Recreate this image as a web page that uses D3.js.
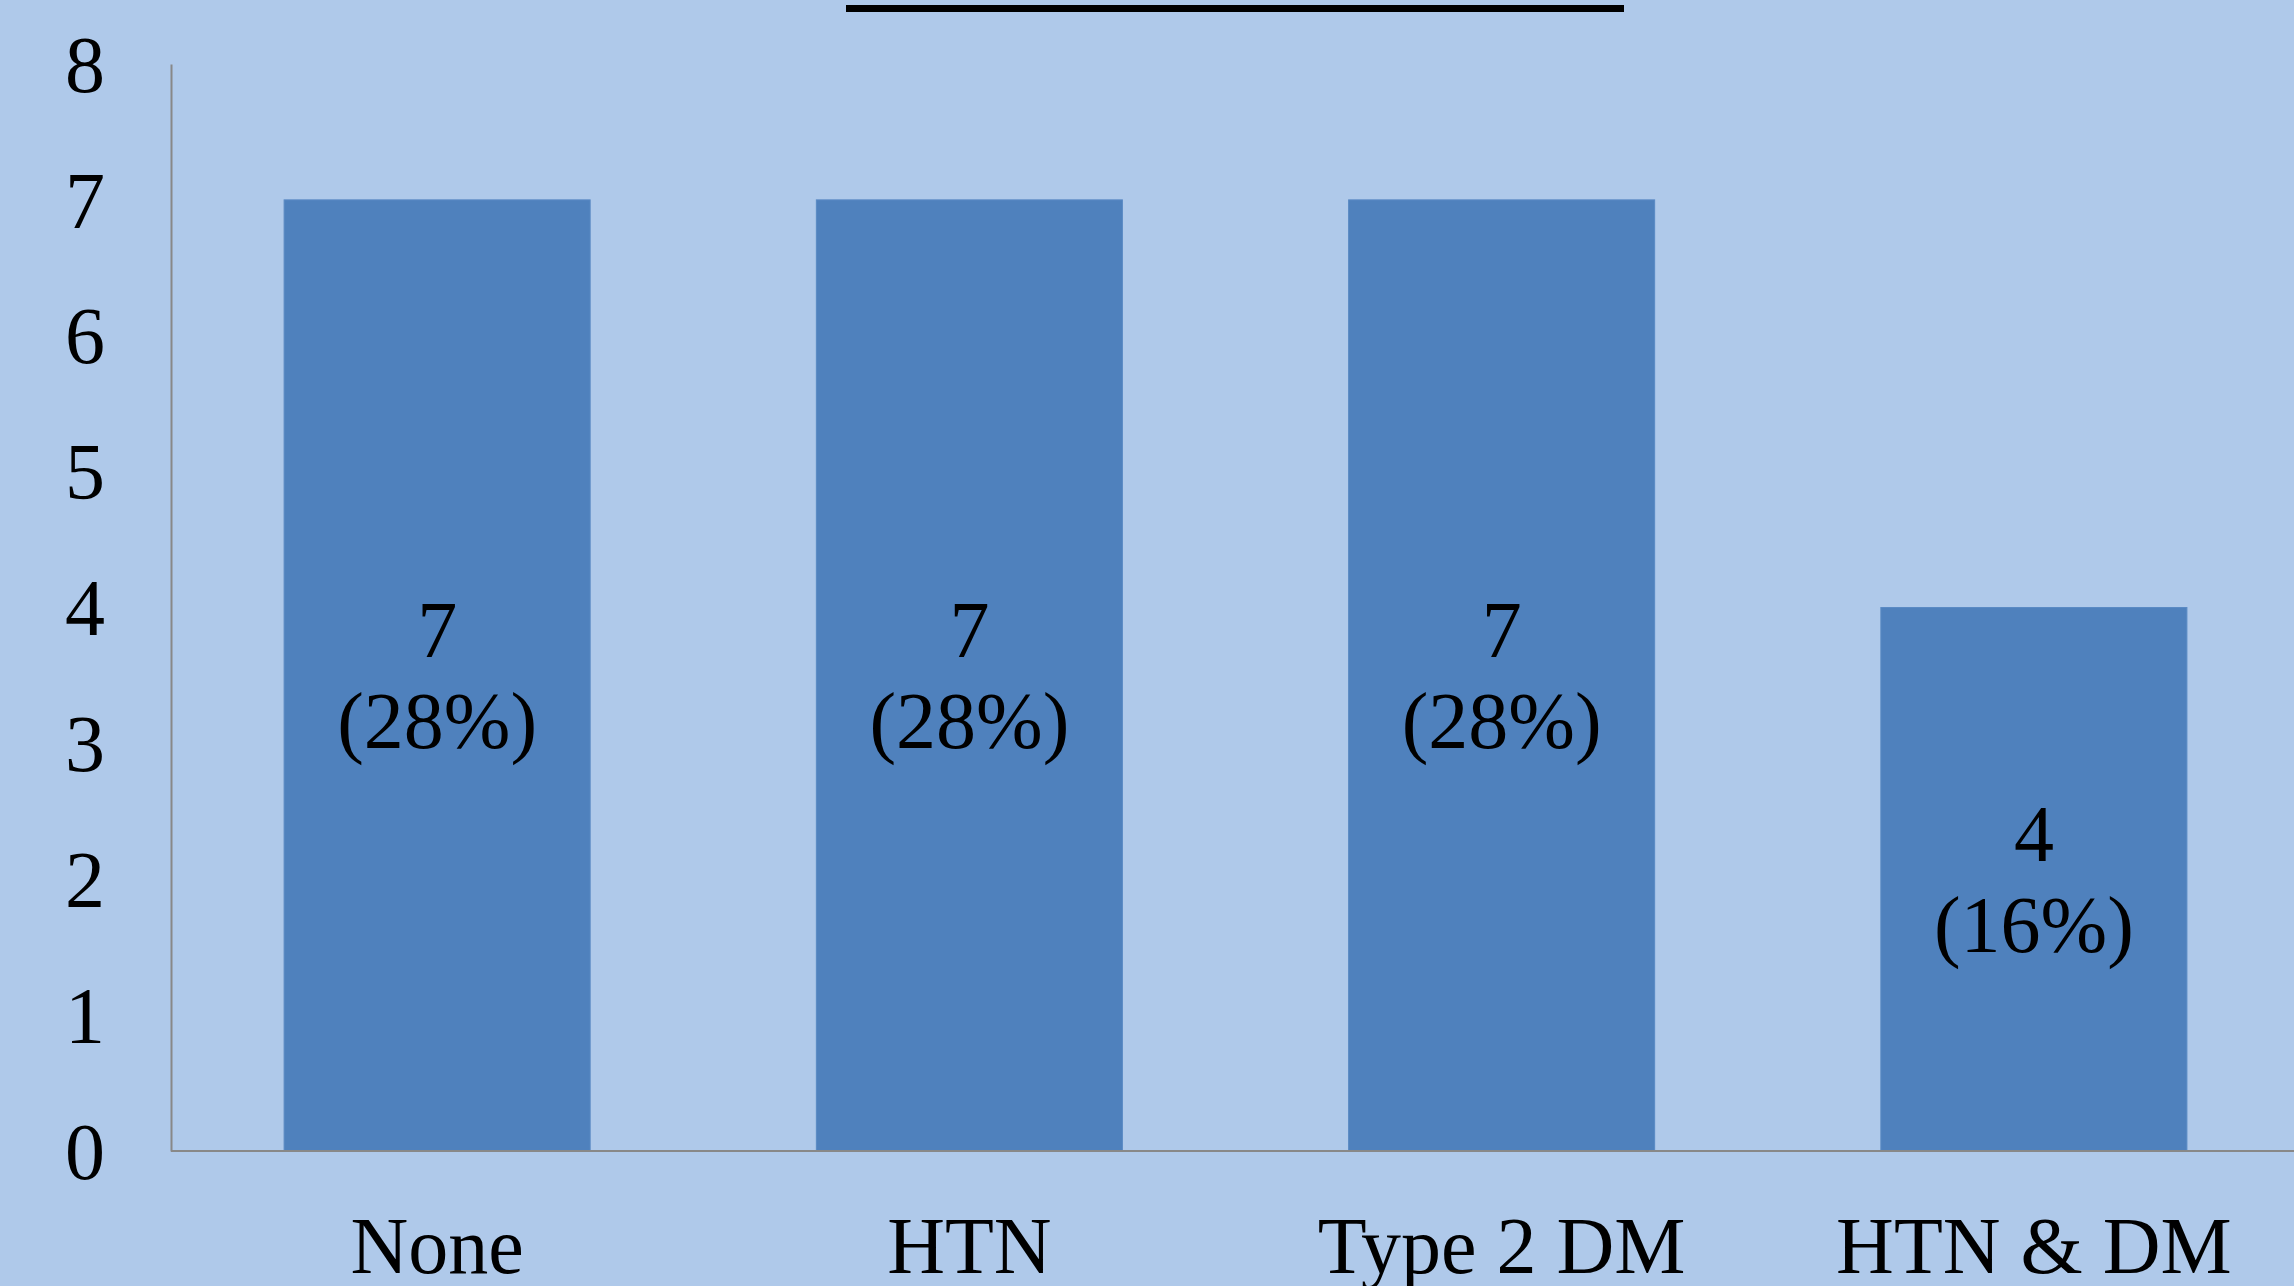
<!DOCTYPE html>
<html>
<head>
<meta charset="utf-8">
<script src="https://cdn.jsdelivr.net/npm/d3@7"></script>
<style>
  html, body { margin: 0; padding: 0; background: #AFC9EA; }
  svg { display: block; }
  text { font-family: "Liberation Serif", "Times New Roman", serif; fill: #000; }
</style>
</head>
<body>
<svg id="chart" width="2294" height="1286"></svg>
<script>
const categories = ["None", "HTN", "Type 2 DM", "HTN & DM"];
const counts = [7, 7, 7, 4];
const percentLabels = ["(28%)", "(28%)", "(28%)", "(16%)"];
const yTicks = [0, 1, 2, 3, 4, 5, 6, 7, 8];

const W = 2294, H = 1286;
const svg = d3.select("#chart");
svg.append("rect").attr("width", W).attr("height", H).attr("fill", "#AFC9EA");

const x = d3.scaleBand().domain(categories).range([171, 2300]).paddingInner(0.425).paddingOuter(0.2125);
const y = d3.scaleLinear().domain([0, 8]).range([1151, 64]);

// title underline (title text cut off above)
svg.append("rect").attr("x", 846).attr("y", 5).attr("width", 778).attr("height", 7).attr("fill", "#000");

// bars
svg.selectAll("rect.bar").data(categories).enter().append("rect")
  .attr("class", "bar")
  .attr("x", d => x(d))
  .attr("y", (d, i) => y(counts[i]))
  .attr("width", x.bandwidth())
  .attr("height", (d, i) => y(0) - y(counts[i]))
  .attr("fill", "#4F81BD")
  .attr("stroke", "#5A8AC4").attr("stroke-width", 1);

// axes
const yAxis = d3.axisLeft(y).tickValues(yTicks).tickSize(0).tickPadding(0).tickFormat(d3.format("d"));
const gy = svg.append("g").attr("transform", "translate(171,0)").call(yAxis);
gy.select(".domain").attr("stroke", "#888").attr("stroke-width", 2);
gy.selectAll(".tick text").attr("x", -66).attr("dy", "0.34em").attr("font-size", 80)
  .attr("font-family", "Liberation Serif").attr("fill", "#000");

const xAxis = d3.axisBottom(x).tickSize(0).tickPadding(0);
const gx = svg.append("g").attr("transform", "translate(0,1151)").call(xAxis);
gx.select(".domain").attr("stroke", "#888").attr("stroke-width", 2).attr("d", "M171,0H2294");
gx.selectAll(".tick text").attr("y", 122).attr("dy", 0).attr("font-size", 80)
  .attr("font-family", "Liberation Serif").attr("fill", "#000");

// value labels
const lab = svg.selectAll("text.val").data(categories).enter().append("text")
  .attr("class", "val")
  .attr("text-anchor", "middle")
  .attr("font-size", 80)
  .attr("x", d => x(d) + x.bandwidth() / 2)
  .attr("y", (d, i) => (y(counts[i]) + y(0)) / 2);
lab.append("tspan").attr("x", d => x(d) + x.bandwidth() / 2).attr("dy", -18)
  .text((d, i) => counts[i]);
lab.append("tspan").attr("x", d => x(d) + x.bandwidth() / 2).attr("dy", 91)
  .text((d, i) => percentLabels[i]);
</script>
</body>
</html>
